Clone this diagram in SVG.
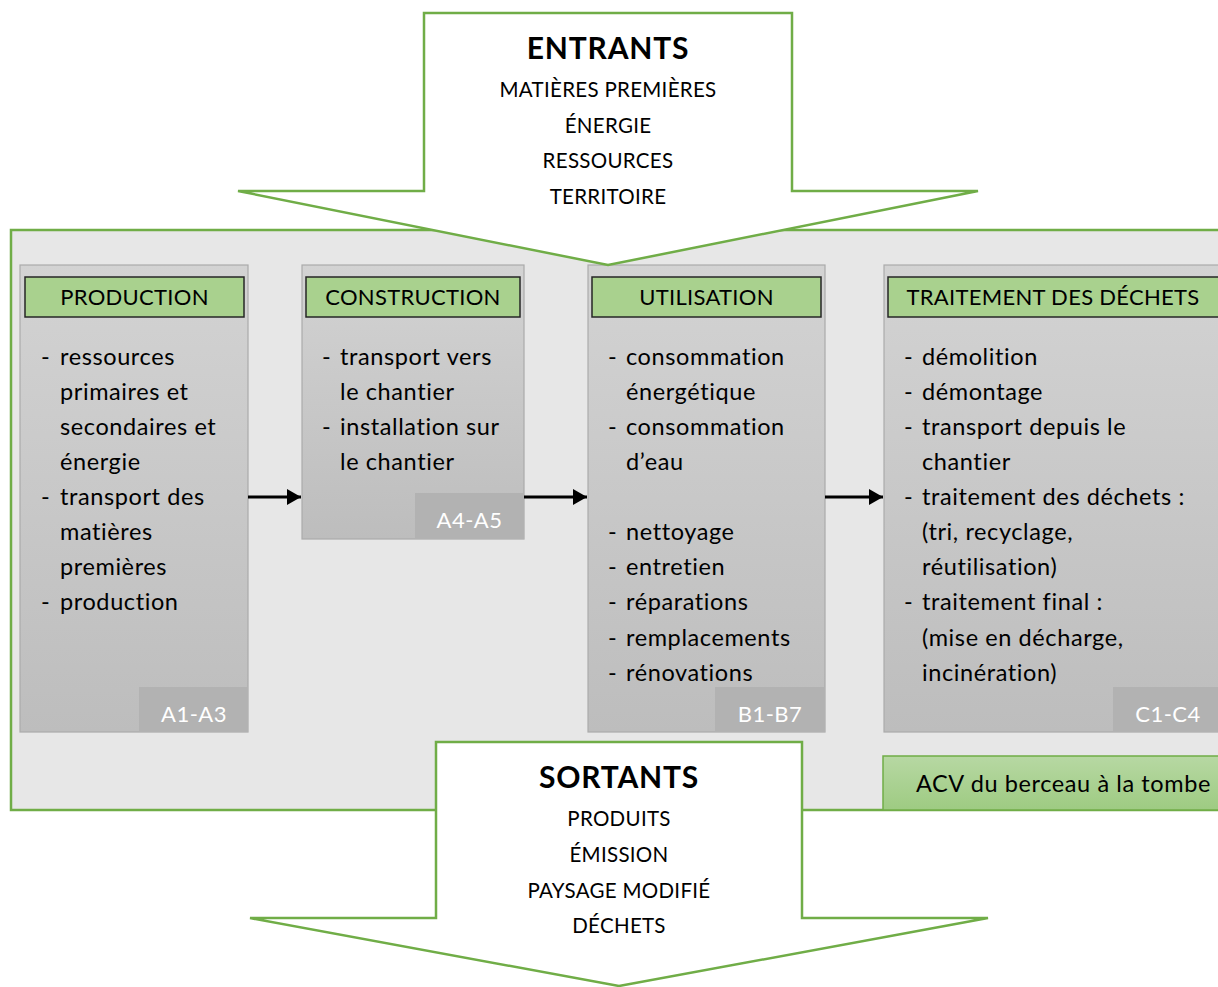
<svg xmlns="http://www.w3.org/2000/svg" width="1218" height="987" viewBox="0 0 1218 987">
<defs>
<linearGradient id="gcol" x1="0" y1="0" x2="0" y2="1">
<stop offset="0" stop-color="#d3d3d3"/>
<stop offset="1" stop-color="#bdbdbd"/>
</linearGradient>
<linearGradient id="gacv" x1="0" y1="0" x2="0" y2="1">
<stop offset="0" stop-color="#b7d8a3"/>
<stop offset="1" stop-color="#9ecb82"/>
</linearGradient>
<marker id="arr" viewBox="0 0 14 16" refX="14" refY="8" markerWidth="14" markerHeight="16" markerUnits="userSpaceOnUse" orient="auto">
<path d="M0,0 L14,8 L0,16 z" fill="#000"/>
</marker>
<style>
text{font-family:Lato,"Open Sans","Liberation Sans",sans-serif;fill:#000;}
.col{fill:url(#gcol);stroke:#ababab;stroke-width:1.2;}
.hdr{fill:#a9d18e;stroke:#262626;stroke-width:1.5;}
.tag{fill:#b2b2b2;}
.tagt{fill:#fff;font-size:22px;letter-spacing:0.5px;text-anchor:middle;}
.ht{font-size:22px;letter-spacing:0.3px;text-anchor:middle;}
.li{font-size:23.5px;letter-spacing:0.6px;}
.big{font-size:30px;letter-spacing:0.8px;font-weight:bold;text-anchor:middle;}
.sm{font-size:20.5px;letter-spacing:0.3px;text-anchor:middle;}
.arrow{fill:#fff;stroke:#70ad47;stroke-width:2.5;}
.conn{stroke:#000;stroke-width:3;fill:none;marker-end:url(#arr);}
</style>
</defs>
<rect width="1218" height="987" fill="#fff"/>
<g id="region">
<rect x="11" y="230" width="1220" height="580" fill="#e7e7e7" stroke="#70ad47" stroke-width="2.5"/>
</g>
<g id="production">
<rect class="col" x="20" y="265" width="228" height="467"/>
<rect class="hdr" x="25" y="277" width="219" height="40"/>
<text class="ht" x="134.5" y="305">PRODUCTION</text>
<text class="li" x="41" y="365">-</text><text class="li" x="60" y="365">ressources</text>
<text class="li" x="60" y="400">primaires et</text>
<text class="li" x="60" y="435">secondaires et</text>
<text class="li" x="60" y="470">énergie</text>
<text class="li" x="41" y="505">-</text><text class="li" x="60" y="505">transport des</text>
<text class="li" x="60" y="540">matières</text>
<text class="li" x="60" y="575">premières</text>
<text class="li" x="41" y="610">-</text><text class="li" x="60" y="610">production</text>
<rect class="tag" x="139" y="687" width="109" height="45"/>
<text class="tagt" x="194" y="722">A1-A3</text>
</g>
<g id="construction">
<rect class="col" x="302" y="265" width="222" height="274"/>
<rect class="hdr" x="306" y="277" width="214" height="40"/>
<text class="ht" x="413" y="305">CONSTRUCTION</text>
<text class="li" x="322" y="365">-</text><text class="li" x="340" y="365">transport vers</text>
<text class="li" x="340" y="400">le chantier</text>
<text class="li" x="322" y="435">-</text><text class="li" x="340" y="435">installation sur</text>
<text class="li" x="340" y="470">le chantier</text>
<rect class="tag" x="415" y="493" width="109" height="46"/>
<text class="tagt" x="469.5" y="528">A4-A5</text>
</g>
<g id="utilisation">
<rect class="col" x="588" y="265" width="237" height="467"/>
<rect class="hdr" x="592" y="277" width="229" height="40"/>
<text class="ht" x="706.5" y="305">UTILISATION</text>
<text class="li" x="608" y="365">-</text><text class="li" x="626" y="365">consommation</text>
<text class="li" x="626" y="400">énergétique</text>
<text class="li" x="608" y="435">-</text><text class="li" x="626" y="435">consommation</text>
<text class="li" x="626" y="470">d’eau</text>
<text class="li" x="608" y="540">-</text><text class="li" x="626" y="540">nettoyage</text>
<text class="li" x="608" y="575">-</text><text class="li" x="626" y="575">entretien</text>
<text class="li" x="608" y="610">-</text><text class="li" x="626" y="610">réparations</text>
<text class="li" x="608" y="646">-</text><text class="li" x="626" y="646">remplacements</text>
<text class="li" x="608" y="681">-</text><text class="li" x="626" y="681">rénovations</text>
<rect class="tag" x="715" y="687" width="110" height="45"/>
<text class="tagt" x="770" y="722">B1-B7</text>
</g>
<g id="traitement">
<rect class="col" x="884" y="265" width="340" height="467"/>
<rect class="hdr" x="888" y="277" width="336" height="40"/>
<text class="ht" x="1053" y="305">TRAITEMENT DES DÉCHETS</text>
<text class="li" x="904" y="365">-</text><text class="li" x="922" y="365">démolition</text>
<text class="li" x="904" y="400">-</text><text class="li" x="922" y="400">démontage</text>
<text class="li" x="904" y="435">-</text><text class="li" x="922" y="435">transport depuis le</text>
<text class="li" x="922" y="470">chantier</text>
<text class="li" x="904" y="505">-</text><text class="li" x="922" y="505">traitement des déchets :</text>
<text class="li" x="922" y="540">(tri, recyclage,</text>
<text class="li" x="922" y="575">réutilisation)</text>
<text class="li" x="904" y="610">-</text><text class="li" x="922" y="610">traitement final :</text>
<text class="li" x="922" y="646">(mise en décharge,</text>
<text class="li" x="922" y="681">incinération)</text>
<rect class="tag" x="1113" y="687" width="110" height="45"/>
<text class="tagt" x="1168" y="722">C1-C4</text>
</g>
<g id="entrants">
<polygon class="arrow" points="424,13 792,13 792,191 978,191 608,265 238,191 424,191"/>
<text class="big" x="608" y="59">ENTRANTS</text>
<text class="sm" x="608" y="97">MATIÈRES PREMIÈRES</text>
<text class="sm" x="608" y="133">ÉNERGIE</text>
<text class="sm" x="608" y="168">RESSOURCES</text>
<text class="sm" x="608" y="204">TERRITOIRE</text>
</g>
<g id="sortants">
<polygon class="arrow" points="436,742 802,742 802,918 988,918 619,986 250,918 436,918"/>
<text class="big" x="619" y="788">SORTANTS</text>
<text class="sm" x="619" y="826">PRODUITS</text>
<text class="sm" x="619" y="862">ÉMISSION</text>
<text class="sm" x="619" y="898">PAYSAGE MODIFIÉ</text>
<text class="sm" x="619" y="933">DÉCHETS</text>
</g>
<g id="acv">
<rect x="883" y="756" width="340" height="54" fill="url(#gacv)" stroke="#70ad47" stroke-width="1.5"/>
<text class="li" x="916" y="792">ACV du berceau à la tombe</text>
</g>
<g id="connectors">
<line class="conn" x1="248" y1="497" x2="301" y2="497"/>
<line class="conn" x1="524" y1="497" x2="587" y2="497"/>
<line class="conn" x1="825" y1="497" x2="883" y2="497"/>
</g>
</svg>
